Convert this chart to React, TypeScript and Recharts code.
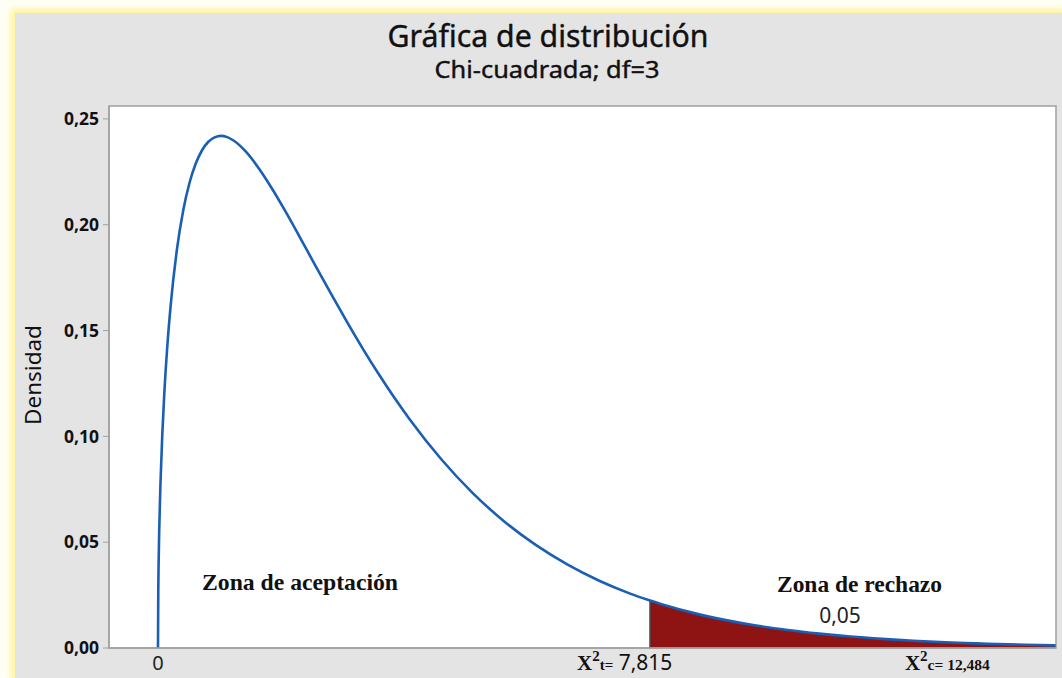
import React from 'react';
import { ComposedChart, Line, Area, XAxis, YAxis, ReferenceArea, ReferenceLine, CartesianGrid } from 'recharts';

// Chi-square (df = 3) density
const xValues = [
  0, 0.005, 0.01, 0.02, 0.04, 0.07, 0.1, 0.15, 0.2, 0.3, 0.4, 0.5, 0.6, 0.7, 0.8, 0.9, 1.0, 1.1, 1.2, 1.4,
  1.6, 1.8, 2.0, 2.25, 2.5, 2.75, 3.0, 3.25, 3.5, 3.75, 4.0, 4.5, 5.0, 5.5, 6.0, 6.5, 7.0, 7.5, 7.815,
  8.0, 8.5, 9.0, 9.5, 10, 10.5, 11, 11.5, 12, 12.5, 13, 13.5, 14, 14.26,
];
const densityValues = [
  0, 0.0281, 0.0397, 0.0559, 0.0782, 0.1019, 0.12, 0.1433, 0.1614, 0.1881, 0.2066, 0.2197, 0.2289, 0.2352,
  0.2392, 0.2413, 0.242, 0.2414, 0.2398, 0.2344, 0.2267, 0.2176, 0.2076, 0.1943, 0.1807, 0.1673, 0.1542,
  0.1416, 0.1297, 0.1185, 0.108, 0.0892, 0.0732, 0.0598, 0.0487, 0.0395, 0.0319, 0.0257, 0.0224,
  0.0207, 0.0166, 0.0133, 0.0106, 0.0085, 0.0068, 0.0054, 0.0043, 0.0034, 0.0027, 0.0022, 0.0017, 0.0014, 0.0012,
];
const criticalValue = 7.815;
const criticalDensity = 0.0224;
const yTicks = [0, 0.05, 0.1, 0.15, 0.2, 0.25];
const xTickValues = [0, 7.815, 12.484];
const xDomain = [-0.778, 14.264];
const yDomain = [0, 0.2561];

const data = xValues.map((x, i) => ({
  x,
  density: densityValues[i],
  tail: x >= criticalValue ? densityValues[i] : null,
}));

const SANS = "'Noto Sans', 'DejaVu Sans', sans-serif";
const SERIF = "'Liberation Serif', 'DejaVu Serif', serif";

const XTick = (props: any) => {
  const { x, y, payload } = props;
  const v = payload.value;
  const base = y + 14;
  if (v === 0) {
    return (
      <text x={x} y={base} textAnchor="middle" fontFamily={SANS} fontSize={20} fill="#222">0</text>
    );
  }
  if (Math.abs(v - 7.815) < 1e-6) {
    return (
      <text x={x - 73} y={base} fill="#111">
        <tspan fontFamily={SERIF} fontWeight="bold" fontSize={21}>X</tspan>
        <tspan fontFamily={SERIF} fontWeight="bold" fontSize={15} dy={-9}>2</tspan>
        <tspan fontFamily={SERIF} fontWeight="bold" fontSize={15} dy={9}>t=</tspan>
        <tspan fontFamily={SANS} fontSize={21}> 7,815</tspan>
      </text>
    );
  }
  return (
    <text x={x - 39} y={base} fill="#111">
      <tspan fontFamily={SERIF} fontWeight="bold" fontSize={21}>X</tspan>
      <tspan fontFamily={SERIF} fontWeight="bold" fontSize={15} dy={-9}>2</tspan>
      <tspan fontFamily={SERIF} fontWeight="bold" fontSize={15.5} dy={9}>c= 12,484</tspan>
    </text>
  );
};

export default function App() {
  return (
    <div style={{ position: 'absolute', left: 0, top: 0, width: 1062, height: 678, background: '#fffef5', overflow: 'hidden' }}>
      <div
        style={{
          position: 'absolute', left: 15, top: 13, width: 1047, height: 665, background: '#e4e4e4',
          boxShadow: '0 0 6px 4px #fff49a',
        }}
      >
        <ComposedChart width={1047} height={665} data={data} margin={{ top: 93, right: 6, bottom: 0, left: 0 }}>
          <CartesianGrid fill="#ffffff" stroke="none" horizontal={false} vertical={false} />
          <XAxis
            dataKey="x"
            type="number"
            domain={xDomain}
            allowDataOverflow
            ticks={xTickValues}
            tick={<XTick />}
            tickLine={false}
            axisLine={{ stroke: '#a0a0a0', strokeWidth: 1.5 }}
            height={30}
            interval={0}
          />
          <YAxis
            type="number"
            domain={yDomain}
            allowDataOverflow
            ticks={yTicks}
            width={94}
            tickFormatter={(v: number) => v.toFixed(2).replace('.', ',')}
            tick={{ fontFamily: SANS, fontSize: 17.5, fontWeight: 'bold', fill: '#111' }}
            tickLine={{ stroke: '#a0a0a0' }}
            tickSize={6}
            tickMargin={4}
            axisLine={{ stroke: '#a0a0a0', strokeWidth: 1.5 }}
          />
          <Area
            dataKey="tail"
            type="linear"
            fill="#8e1414"
            fillOpacity={1}
            stroke="none"
            isAnimationActive={false}
            connectNulls={false}
          />
          <ReferenceLine
            segment={[{ x: criticalValue, y: 0 }, { x: criticalValue, y: criticalDensity }]}
            stroke="#4a4a4a"
            strokeWidth={1.5}
          />
          <Line
            dataKey="density"
            type="monotone"
            stroke="#1a5fb4"
            strokeWidth={2.6}
            dot={false}
            isAnimationActive={false}
          />
          <ReferenceArea
            x1={xDomain[0]}
            x2={xDomain[1]}
            y1={yDomain[0]}
            y2={yDomain[1]}
            fill="none"
            stroke="#a0a0a0"
            strokeWidth={1.5}
            ifOverflow="visible"
          />
        </ComposedChart>
      </div>
      <svg width={1062} height={678} style={{ position: 'absolute', left: 0, top: 0, pointerEvents: 'none' }}>
        <text x={548} y={47} textAnchor="middle" fontFamily={SANS} fontSize={30} fill="#111" stroke="#111" strokeWidth={0.4} textLength={321} lengthAdjust="spacingAndGlyphs">
          Gráfica de distribución
        </text>
        <text x={547} y={78} textAnchor="middle" fontFamily={SANS} fontSize={23} fill="#111" stroke="#111" strokeWidth={0.4} textLength={225} lengthAdjust="spacingAndGlyphs">
          Chi-cuadrada; df=3
        </text>
        <text x={41} y={375} textAnchor="middle" fontFamily={SANS} fontSize={22.5} fill="#111" transform="rotate(-90 41 375)">
          Densidad
        </text>
        <text x={202} y={590} fontFamily={SERIF} fontWeight="bold" fontSize={23.5} fill="#111" textLength={196} lengthAdjust="spacingAndGlyphs">
          Zona de aceptación
        </text>
        <text x={777} y={592} fontFamily={SERIF} fontWeight="bold" fontSize={23.5} fill="#111" textLength={165} lengthAdjust="spacingAndGlyphs">
          Zona de rechazo
        </text>
        <text x={840} y={623} textAnchor="middle" fontFamily={SANS} fontSize={21} fill="#222">
          0,05
        </text>
      </svg>
    </div>
  );
}
